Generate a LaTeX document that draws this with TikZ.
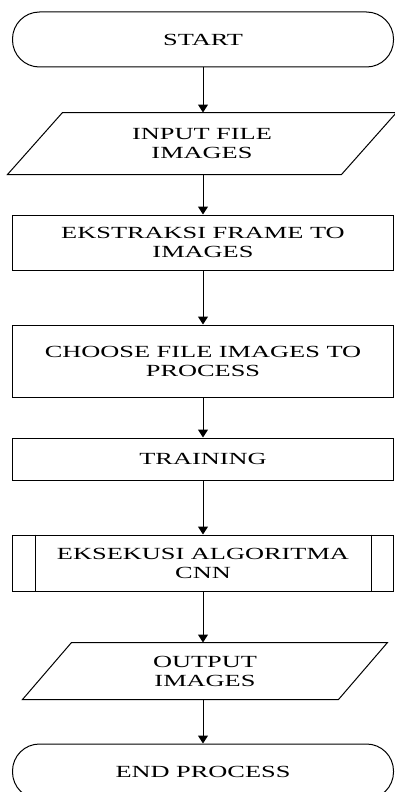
\documentclass[tikz,border=0pt]{standalone}
\usepackage{fontspec}
\setmainfont{Liberation Serif}[FakeStretch=1.55]
\usetikzlibrary{arrows.meta,calc}

\begin{document}
\begin{tikzpicture}[x=1pt,y=1pt,
  every node/.style={font=\fontsize{17}{19}\selectfont, align=center, line width=1pt},
  startstop/.style={draw, rectangle, rounded corners=27pt, minimum width=381pt, minimum height=55pt, inner sep=0pt},
  iobox/.style={rectangle, inner sep=0pt},
  procbox/.style={draw, rectangle, minimum width=381pt, inner sep=0pt},
  flow/.style={line width=1pt, -{Triangle[width=10pt,length=8pt]}}]
\useasboundingbox (0,0) rectangle (394,-792);
\node[startstop] (start) at (203,-39.5) {START};
\node[iobox, minimum width=333pt, minimum height=61pt] (input) at (202,-143.5) {INPUT FILE\\ IMAGES};
\node[procbox, minimum height=55pt] (ekstraksi) at (203,-242.5) {EKSTRAKSI FRAME TO\\ IMAGES};
\node[procbox, minimum height=72pt] (choose) at (203,-361) {CHOOSE FILE IMAGES TO\\ PROCESS};
\node[procbox, minimum height=42pt] (training) at (203,-459) {TRAINING};
\node[procbox, minimum height=56pt] (eksekusi) at (203,-563) {EKSEKUSI ALGORITMA\\ CNN};
\node[iobox, minimum width=315pt, minimum height=56pt] (output) at (205,-671) {OUTPUT\\ IMAGES};
\node[startstop] (end) at (203,-771.5) {END PROCESS};

% jajar genjang input / output
\draw[line width=1pt] ([xshift=27.5]input.north west) -- ([xshift=27.5]input.north east)
  -- ([xshift=-27.5]input.south east) -- ([xshift=-27.5]input.south west) -- cycle;
\draw[line width=1pt] ([xshift=24.5]output.north west) -- ([xshift=24.5]output.north east)
  -- ([xshift=-24.5]output.south east) -- ([xshift=-24.5]output.south west) -- cycle;

% garis dalam subproses
\draw[line width=1pt] ($(eksekusi.north west)+(23,0)$) -- ($(eksekusi.south west)+(23,0)$);
\draw[line width=1pt] ($(eksekusi.north east)+(-23,0)$) -- ($(eksekusi.south east)+(-23,0)$);

\draw[flow] (start) -- (start |- input.north);
\draw[flow] (start |- input.south) -- (ekstraksi);
\draw[flow] (ekstraksi) -- (choose);
\draw[flow] (choose) -- (training);
\draw[flow] (training) -- (eksekusi);
\draw[flow] (eksekusi) -- (eksekusi |- output.north);
\draw[flow] (eksekusi |- output.south) -- (end);
\end{tikzpicture}
\end{document}
